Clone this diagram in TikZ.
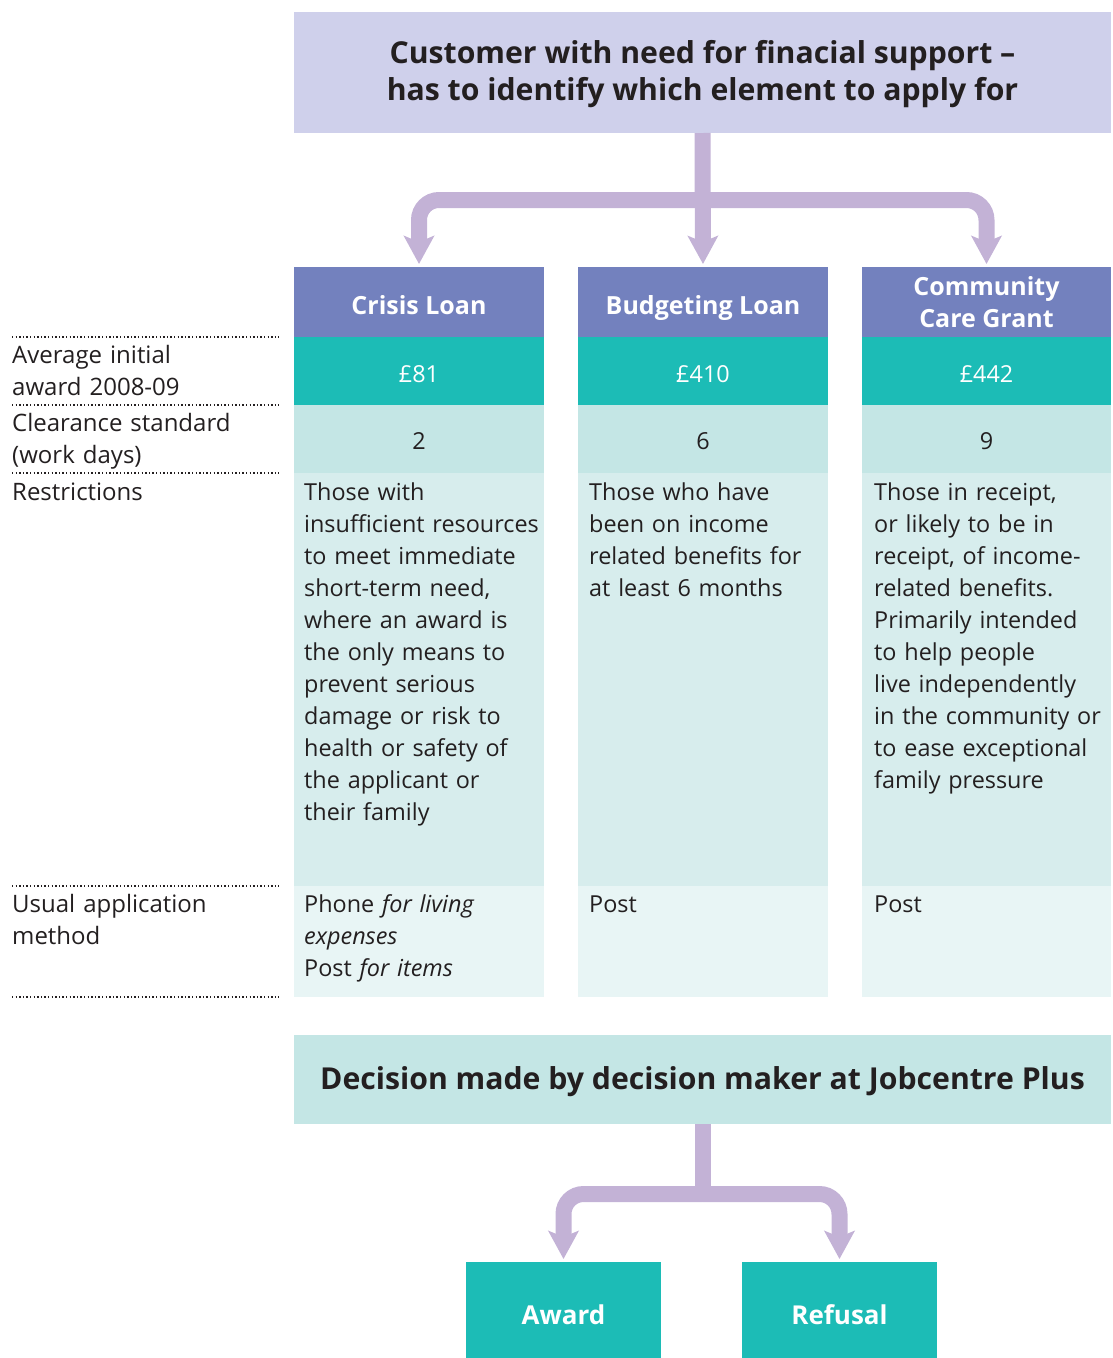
\documentclass[tikz,border=0pt]{standalone}
\usepackage{fontspec}
\setmainfont{Open Sans}
\usetikzlibrary{arrows.meta}

\definecolor{inkgray}{HTML}{231F20}
\definecolor{lavbox}{HTML}{CFD0EB}
\definecolor{hdrblue}{HTML}{7381BE}
\definecolor{teal}{HTML}{1CBCB6}
\definecolor{paleteal}{HTML}{C4E6E5}
\definecolor{restrfill}{HTML}{D7EDED}
\definecolor{appfill}{HTML}{E8F5F5}
\definecolor{flowlilac}{HTML}{C3B2D6}

\newcommand{\bodyfont}{\fontsize{23.4}{32}\selectfont}
\newcommand{\labelfont}{\fontsize{24}{32}\selectfont}
\newcommand{\headfont}{\fontsize{25}{32}\selectfont\bfseries}
\newcommand{\outfont}{\fontsize{26}{32}\selectfont\bfseries}
\newcommand{\titlefont}{\fontsize{30.2}{37}\selectfont\bfseries}

\begin{document}
\begin{tikzpicture}[x=1pt,y=-1pt,
  cellbox/.style={anchor=north west, inner sep=0pt, outer sep=0pt, minimum width=250pt, align=center},
  hdr/.style={cellbox, fill=hdrblue, minimum height=70pt, text=white, font=\headfont},
  oneline/.style={text height=#1, text depth=0pt},
  amt/.style={cellbox, fill=teal, minimum height=68pt, text=white, font=\bodyfont, oneline=22pt},
  clr/.style={cellbox, fill=paleteal, minimum height=68pt, text=inkgray, font=\bodyfont, oneline=21pt},
  restr/.style={cellbox, fill=restrfill, minimum height=413pt},
  appl/.style={cellbox, fill=appfill, minimum height=111pt},
  txt/.style={anchor=base west, inner sep=0pt, align=left, text width=300pt, text=inkgray, font=\bodyfont},
  lbl/.style={txt, font=\labelfont},
  rowrule/.style={inkgray, line width=1.3pt, dash pattern=on 1.3pt off 2.3pt},
  flow/.style={draw=flowlilac, line width=16pt, rounded corners=20pt,
    -{Stealth[length=28pt,width=30pt,inset=6pt,fill=flowlilac]}, shorten >=3pt},
  stem/.style={draw=flowlilac, line width=16pt},
  bigbox/.style={inner sep=0pt, outer sep=0pt, align=center, text=inkgray, font=\titlefont},
  outcome/.style={inner sep=0pt, outer sep=0pt, fill=teal, minimum width=195pt, minimum height=96pt,
    text=white, font=\outfont, anchor=north west, oneline=28pt}
]
\useasboundingbox (0,0) rectangle (1112,1358);

% top question: panel, then its two-line heading
\node[bigbox, fill=lavbox, minimum width=817pt, minimum height=121pt] (top) at (702.5,72.5) {};
\node[bigbox] (toptext) at (702.5,74.5)
  {Customer with need for finacial support –\\has to identify which element to apply for};

% column headers
\node[hdr, oneline=25pt] (h1) at (294,267) {Crisis Loan};
\node[hdr, oneline=25pt] (h2) at (578,267) {Budgeting Loan};
\node[hdr, minimum width=249pt] (h3) at (862,267) {Community\\Care Grant};

% average award
\node[amt] (a1) at (294,337) {£81};
\node[amt] (a2) at (578,337) {£410};
\node[amt, minimum width=249pt] (a3) at (862,337) {£442};

% clearance standard
\node[clr] (c1) at (294,405) {2};
\node[clr] (c2) at (578,405) {6};
\node[clr, minimum width=249pt] (c3) at (862,405) {9};

% restrictions
\node[restr] (r1) at (294,473) {};
\node[restr] (r2) at (578,473) {};
\node[restr, minimum width=249pt] (r3) at (862,473) {};

% application method
\node[appl] (p1) at (294,886) {};
\node[appl] (p2) at (578,886) {};
\node[appl, minimum width=249pt] (p3) at (862,886) {};

\node[txt] (r1t) at (304,500) {Those with\\insufficient resources\\to meet immediate\\short-term need,\\where an award is\\the only means to\\prevent serious\\damage or risk to\\health or safety of\\the applicant or\\their family};
\node[txt] (r2t) at (589,500) {Those who have\\been on income\\related benefits for\\at least 6 months};
\node[txt] (r3t) at (874,500) {Those in receipt,\\or likely to be in\\receipt, of income-\\related benefits.\\Primarily intended\\to help people\\live independently\\in the community or\\to ease exceptional\\family pressure};

\node[txt] (p1t) at (304,912) {Phone \textit{for living}\\\textit{expenses}\\Post \textit{for items}};
\node[txt] (p2t) at (589,912) {Post};
\node[txt] (p3t) at (874,912) {Post};

% row labels and rules
\draw[rowrule] (12,337) -- (279,337);
\draw[rowrule] (12,405) -- (279,405);
\draw[rowrule] (12,473) -- (279,473);
\draw[rowrule] (12,886) -- (279,886);
\draw[rowrule] (12,997) -- (279,997);
\node[lbl] (l1) at (12,363) {Average initial\\award 2008-09};
\node[lbl] (l2) at (12,431) {Clearance standard\\(work days)};
\node[lbl] (l3) at (12,500) {Restrictions};
\node[lbl] (l4) at (12,912) {Usual application\\method};

% decision
\node[bigbox, fill=paleteal, minimum width=817pt, minimum height=89pt, text height=20pt, text depth=1pt] (dec) at (702.5,1079.5)
  {Decision made by decision maker at Jobcentre Plus};

\node[outcome] (award) at (466,1262) {Award};
\node[outcome] (refusal) at (742,1262) {Refusal};

% branching arrows, top
\coordinate (j1) at (top.south |- 0,200);
\draw[flow] (top.south) -- (h2.north);
\draw[flow] (j1) -| (h1.north);
\draw[flow] (j1) -| (h3.north);

% branching arrows, bottom
\coordinate (j2) at (dec.south |- 0,1194);
\draw[stem] (dec.south) -- ([yshift=-8pt]j2);
\draw[flow] (j2) -| (award.north);
\draw[flow] (j2) -| (refusal.north);
\end{tikzpicture}
\end{document}
